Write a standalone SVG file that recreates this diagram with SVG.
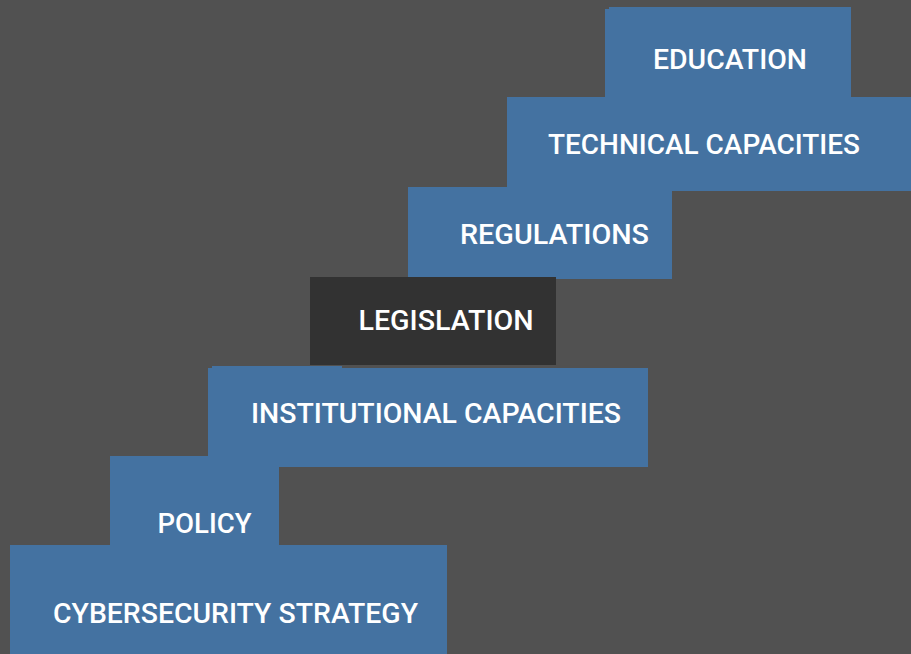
<svg xmlns="http://www.w3.org/2000/svg" width="911" height="654" viewBox="0 0 911 654">
<style>
.blk{fill:#4472a1}
.dark{fill:#323232}
.lbl{fill:#ffffff;font-family:Roboto,"Liberation Sans",sans-serif;font-weight:500;font-size:28.5px}
</style>
<rect x="0" y="0" width="911" height="654" fill="#515151"/>
<g id="education">
<rect class="blk" x="609" y="7" width="242" height="92"/>
<rect class="blk" x="605" y="9" width="10" height="90"/>
<text class="lbl" x="653" y="69" textLength="154" lengthAdjust="spacingAndGlyphs">EDUCATION</text>
</g>
<g id="technical-capacities">
<rect class="blk" x="507" y="97" width="404" height="94"/>
<rect class="blk" x="507" y="97" width="165" height="92"/>
<text class="lbl" x="548" y="154" textLength="312" lengthAdjust="spacingAndGlyphs">TECHNICAL CAPACITIES</text>
</g>
<g id="regulations">
<rect class="blk" x="408" y="187" width="264" height="92"/>
<text class="lbl" x="460" y="244" textLength="189" lengthAdjust="spacingAndGlyphs">REGULATIONS</text>
</g>
<g id="legislation">
<rect class="dark" x="310" y="277" width="246" height="88"/>
<text class="lbl" x="358.5" y="330" textLength="175" lengthAdjust="spacingAndGlyphs">LEGISLATION</text>
</g>
<g id="institutional-capacities">
<rect class="blk" x="212" y="366" width="130" height="4"/>
<rect class="blk" x="208" y="368" width="440" height="99"/>
<text class="lbl" x="251" y="422.5" textLength="370" lengthAdjust="spacingAndGlyphs">INSTITUTIONAL CAPACITIES</text>
</g>
<g id="policy">
<rect class="blk" x="110" y="456" width="169" height="104"/>
<text class="lbl" x="157.5" y="533" textLength="94" lengthAdjust="spacingAndGlyphs">POLICY</text>
</g>
<g id="cybersecurity-strategy">
<rect class="blk" x="10" y="545" width="437" height="109"/>
<text class="lbl" x="53" y="622.5" textLength="365" lengthAdjust="spacingAndGlyphs">CYBERSECURITY STRATEGY</text>
</g>
<g id="connectors"/>
</svg>
